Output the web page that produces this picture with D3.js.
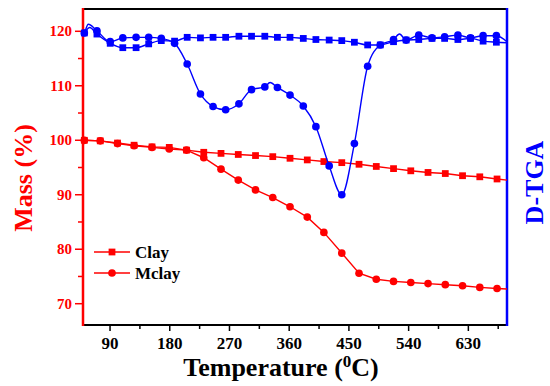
<!DOCTYPE html>
<html>
<head>
<meta charset="utf-8">
<script src="https://cdn.jsdelivr.net/npm/d3@7"></script>
<style>
  html, body { margin: 0; padding: 0; background: #fff; }
  svg { display: block; font-family: "Liberation Serif", serif; font-weight: bold; }
</style>
</head>
<body>
<div id="chart"></div>
<script>
// Temperatures of the mass markers (°C)
const massT = [52, 76, 102, 127, 154, 180, 206, 232, 258, 284, 310, 336, 362, 388, 413, 440, 466, 492, 518, 544, 570, 596, 622, 648, 674];
const clayMass = [99.9, 99.8, 99.4, 99.0, 98.7, 98.6, 98.1, 97.7, 97.5, 97.3, 97.1, 96.9, 96.6, 96.3, 96.0, 95.8, 95.5, 95.1, 94.7, 94.3, 94.0, 93.8, 93.4, 93.2, 92.8];
const mclayMass = [99.9, 99.8, 99.3, 98.9, 98.6, 98.3, 98.1, 96.7, 94.6, 92.6, 90.8, 89.4, 87.7, 85.8, 83.0, 79.2, 75.5, 74.4, 74.0, 73.8, 73.6, 73.4, 73.2, 72.9, 72.7];
// line continues past the last marker up to the right axis
const massTailT = 689;
const clayMassTail = 92.6;
const mclayMassTail = 72.6;

// Temperatures of the D-TGA markers (°C), values read against the left scale
const dtgaT = [52, 71, 91, 110, 130, 149, 168, 188, 207, 227, 246, 265, 285, 304, 324, 343, 362, 382, 401, 421, 440, 459, 479, 498, 518, 537, 556, 576, 595, 615, 634, 653, 673];
const clayDtga = [119.6, 119.4, 117.7, 116.9, 116.9, 117.6, 118.2, 118.1, 118.8, 118.7, 118.8, 118.8, 119.0, 119.0, 119.0, 118.8, 118.8, 118.6, 118.4, 118.3, 118.2, 117.9, 117.4, 117.4, 118.0, 118.3, 118.4, 118.6, 118.6, 118.4, 118.6, 118.1, 117.9];
const mclayDtga = [119.6, 120.0, 118.0, 118.7, 118.8, 118.8, 118.6, 117.7, 113.9, 108.4, 106.1, 105.5, 106.6, 109.2, 109.7, 109.6, 108.2, 106.2, 102.4, 95.2, 89.9, 99.3, 113.5, 117.4, 118.4, 118.3, 119.2, 118.7, 118.9, 119.2, 118.7, 119.1, 119.1];
// extra trace points between markers (line only, no marker)
const clayDtgaExtra = [[50, 119.3], [60, 120.6], [689, 117.8]];
const mclayDtgaExtra = [[50, 119.2], [58, 121.2], [332, 110.5], [527, 119.4], [689, 118.0]];

const xMajor = [90, 180, 270, 360, 450, 540, 630];
const xMinor = [135, 225, 315, 405, 495, 585, 675];
const yMajor = [70, 80, 90, 100, 110, 120];
const yMinor = [75, 85, 95, 105, 115];

const RED = '#ff0000';
const BLUE = '#0000ff';
const FONT = '"Liberation Serif", "Times New Roman", serif';

const width = 550, height = 386;
const margin = { top: 9, right: 43, bottom: 61, left: 83 };

const svg = d3.select('#chart').append('svg')
  .attr('width', width)
  .attr('height', height);

const x = d3.scaleLinear().domain([50, 689]).range([margin.left, width - margin.right]);
const y = d3.scaleLinear().domain([66, 124]).range([height - margin.bottom, margin.top]);
// right axis (D-TGA) has no labels; same vertical mapping
const yR = d3.scaleLinear().domain([66, 124]).range([height - margin.bottom, margin.top]);

const x0 = x.range()[0], x1 = x.range()[1];
const y0 = y.range()[0], y1 = y.range()[1];

// Axes
const xAxis = svg.append('g')
  .attr('transform', `translate(0,${y0})`)
  .call(d3.axisBottom(x).tickValues(xMajor).tickSize(6).tickSizeOuter(0).tickPadding(6));
xAxis.select('.domain').remove();
xAxis.selectAll('line').attr('stroke', '#000').attr('stroke-width', 1.5);
xAxis.selectAll('text')
  .attr('fill', '#000')
  .style('font-size', '17px')
  .style('font-family', FONT)
  .style('font-weight', 'bold');

svg.append('g')
  .attr('transform', `translate(0,${y0})`)
  .call(d3.axisBottom(x).tickValues(xMinor).tickSize(4).tickFormat(''))
  .call(g => g.select('.domain').remove())
  .selectAll('line').attr('stroke', '#000').attr('stroke-width', 1.5);

const yAxis = svg.append('g')
  .attr('transform', `translate(${x0},0)`)
  .call(d3.axisLeft(y).tickValues(yMajor).tickSize(8).tickSizeOuter(0).tickPadding(3));
yAxis.select('.domain').remove();
yAxis.selectAll('line').attr('stroke', RED).attr('stroke-width', 1.5);
yAxis.selectAll('text')
  .attr('fill', RED)
  .style('font-size', '15px')
  .style('font-family', FONT)
  .style('font-weight', 'bold');

svg.append('g')
  .attr('transform', `translate(${x0},0)`)
  .call(d3.axisLeft(y).tickValues(yMinor).tickSize(5).tickFormat(''))
  .call(g => g.select('.domain').remove())
  .selectAll('line').attr('stroke', RED).attr('stroke-width', 1.5);

// Frame lines
svg.append('line').attr('x1', x0).attr('x2', x1).attr('y1', y1).attr('y2', y1)
  .attr('stroke', '#000').attr('stroke-width', 2);
svg.append('line').attr('x1', x0).attr('x2', x1).attr('y1', y0).attr('y2', y0)
  .attr('stroke', '#000').attr('stroke-width', 2);
svg.append('line').attr('x1', x0).attr('x2', x0).attr('y1', y1 - 1).attr('y2', y0 + 1)
  .attr('stroke', RED).attr('stroke-width', 2.5);
svg.append('line').attr('x1', x1).attr('x2', x1).attr('y1', y1 - 1).attr('y2', y0 + 1)
  .attr('stroke', BLUE).attr('stroke-width', 2.5);

// Data series
const massLine = d3.line().x(d => x(d[0])).y(d => y(d[1]));
const dtgaLine = d3.line().x(d => x(d[0])).y(d => yR(d[1])).curve(d3.curveMonotoneX);

const zip = (ts, vs) => ts.map((t, i) => [t, vs[i]]);

const plot = svg.append('g');

function drawSeries(pts, linePts, lineGen, color, shape, yScale) {
  plot.append('path')
    .datum(linePts)
    .attr('fill', 'none')
    .attr('stroke', color)
    .attr('stroke-width', 1.4)
    .attr('d', lineGen);
  const sym = d3.symbol()
    .type(shape === 'square' ? d3.symbolSquare : d3.symbolCircle)
    .size(46);
  plot.append('g').selectAll('path')
    .data(pts)
    .join('path')
    .attr('transform', d => `translate(${x(d[0])},${yScale(d[1])})`)
    .attr('d', sym)
    .attr('fill', color);
}

const clayMassPts = zip(massT, clayMass);
const mclayMassPts = zip(massT, mclayMass);
drawSeries(clayMassPts, clayMassPts.concat([[massTailT, clayMassTail]]), massLine, RED, 'square', y);
drawSeries(mclayMassPts, mclayMassPts.concat([[massTailT, mclayMassTail]]), massLine, RED, 'circle', y);

const clayDtgaPts = zip(dtgaT, clayDtga);
const mclayDtgaPts = zip(dtgaT, mclayDtga);
drawSeries(clayDtgaPts, clayDtgaPts.concat(clayDtgaExtra).sort((a, b) => a[0] - b[0]), dtgaLine, BLUE, 'square', yR);
drawSeries(mclayDtgaPts, mclayDtgaPts.concat(mclayDtgaExtra).sort((a, b) => a[0] - b[0]), dtgaLine, BLUE, 'circle', yR);

// Legend
const legendItems = [
  { label: 'Clay', shape: 'square', y: 252 },
  { label: 'Mclay', shape: 'circle', y: 273 }
];
const legend = svg.append('g');
legendItems.forEach(item => {
  legend.append('line')
    .attr('x1', 94).attr('x2', 130).attr('y1', item.y).attr('y2', item.y)
    .attr('stroke', RED).attr('stroke-width', 1.4);
  legend.append('path')
    .attr('transform', `translate(112,${item.y})`)
    .attr('d', d3.symbol().type(item.shape === 'square' ? d3.symbolSquare : d3.symbolCircle).size(46))
    .attr('fill', RED);
  legend.append('text')
    .attr('x', 135).attr('y', item.y + 5.5)
    .attr('fill', '#000')
    .style('font-size', '17px')
    .text(item.label);
});

// Axis titles
svg.append('text')
  .attr('x', 281).attr('y', 376)
  .attr('text-anchor', 'middle')
  .attr('fill', '#000')
  .style('font-size', '26px')
  .call(t => {
    t.append('tspan').text('Temperature (');
    t.append('tspan').attr('dy', -9).style('font-size', '17px').text('0');
    t.append('tspan').attr('dy', 9).text('C)');
  });

svg.append('text')
  .attr('transform', 'translate(31.5,178) rotate(-90)')
  .attr('text-anchor', 'middle')
  .attr('fill', RED)
  .style('font-size', '26px')
  .text('Mass (%)');

svg.append('text')
  .attr('transform', 'translate(543,182.5) rotate(-90)')
  .attr('text-anchor', 'middle')
  .attr('fill', BLUE)
  .style('font-size', '26px')
  .text('D-TGA');
</script>
</body>
</html>
